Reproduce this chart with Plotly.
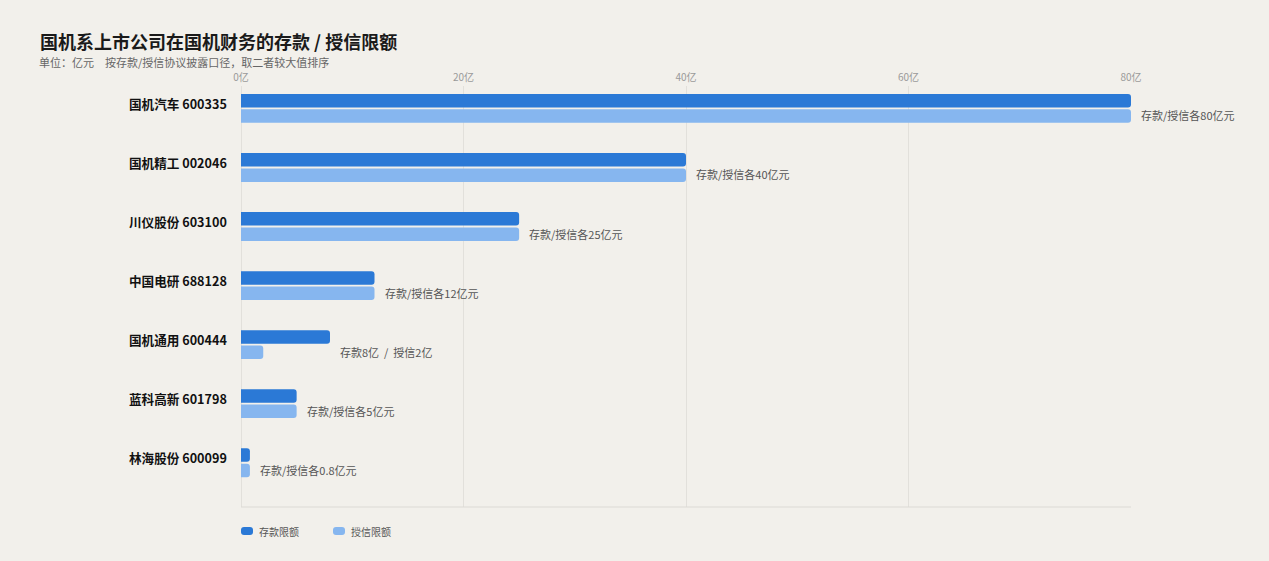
import plotly.graph_objects as go

companies = ["国机汽车 600335", "国机精工 002046", "川仪股份 603100", "中国电研 688128",
             "国机通用 600444", "蓝科高新 601798", "林海股份 600099"]
deposit = [80, 40, 25, 12, 8, 5, 0.8]
credit = [80, 40, 25, 12, 2, 5, 0.8]
notes = ["存款/授信各80亿元", "存款/授信各40亿元", "存款/授信各25亿元", "存款/授信各12亿元",
         "存款8亿  /  授信2亿", "存款/授信各5亿元", "存款/授信各0.8亿元"]
series_names = ["存款限额", "授信限额"]
x_ticks = [0, 20, 40, 60, 80]

FONT = "Noto Sans CJK SC, Noto Sans, sans-serif"
BG = "#f2f0eb"
DARK = "#2b79d6"
LIGHT = "#86b6ef"
COLORS = [DARK, LIGHT]

fig = go.Figure()
for name, vals, col in zip(series_names, [deposit, credit], COLORS):
    fig.add_trace(go.Bar(y=companies, x=vals, orientation="h", name=name,
                         marker=dict(color=col, line=dict(width=0)), hoverinfo="x+y",
                         showlegend=False))

annotations = []
for c, d, cr, t in zip(companies, deposit, credit, notes):
    annotations.append(dict(x=max(d, cr), y=c, xref="x", yref="y", text=t, showarrow=False,
                            xanchor="left", yanchor="middle", xshift=8, yshift=-7,
                            font=dict(size=11, color="#555555", family=FONT)))
    annotations.append(dict(x=0, y=c, xref="paper", yref="y", text="<b>%s</b>" % c, showarrow=False,
                            xanchor="right", yanchor="middle", xshift=-12, yshift=5,
                            font=dict(size=12.6, color="#111111", family=FONT)))

annotations.append(dict(x=-203 / 890, y=1 + (86 - 62) / 421, xref="paper", yref="paper",
                        text="单位：亿元　按存款/授信协议披露口径，取二者较大值排序", showarrow=False,
                        xanchor="left", yanchor="middle", borderpad=0,
                        font=dict(size=11, color="#666666", family=FONT)))

# legend (custom, to match rounded swatches)
legend_y = -(531 - 507) / 421
rr = "M3,-4 L9,-4 Q12,-4 12,-1 L12,1 Q12,4 9,4 L3,4 Q0,4 0,1 L0,-1 Q0,-4 3,-4 Z"
shapes = [dict(type="line", xref="paper", yref="paper", x0=0, x1=1, y0=0, y1=0,
               line=dict(color="#dcdad5", width=1))]
legend_offsets = [0, 92]
for name, col, off in zip(series_names, COLORS, legend_offsets):
    shapes.append(dict(type="path", xref="paper", yref="paper", xsizemode="pixel", ysizemode="pixel",
                       xanchor=off / 890, yanchor=legend_y, path=rr,
                       fillcolor=col, line=dict(width=0)))
    annotations.append(dict(x=off / 890, y=legend_y, xref="paper", yref="paper", text=name,
                            showarrow=False, xanchor="left", yanchor="middle", xshift=16,
                            font=dict(size=10, color="#555555", family=FONT)))

fig.update_layout(
    width=1269, height=561,
    paper_bgcolor=BG, plot_bgcolor=BG,
    font=dict(family=FONT, color="#333333"),
    margin=dict(l=241, r=138, t=86, b=54),
    barmode="group", bargap=0.48, bargroupgap=0.12, barcornerradius=3,
    title=dict(text="<b>国机系上市公司在国机财务的存款 / 授信限额</b>",
               x=40 / 1269, xanchor="left", xref="container", y=1 - 43 / 561, yanchor="middle",
               yref="container",
               font=dict(size=18, color="#1a1a1a", family=FONT)),
    xaxis=dict(side="top", range=[0, 80], tickvals=x_ticks,
               ticktext=["%d亿" % v for v in x_ticks],
               tickfont=dict(size=10, color="#9a9a9a", family=FONT),
               showgrid=True, gridcolor="#e2e0db", gridwidth=1,
               zeroline=True, zerolinecolor="#e2e0db", zerolinewidth=1,
               showline=False, ticks="", ticklabelstandoff=2, fixedrange=True),
    yaxis=dict(categoryorder="array", categoryarray=companies,
               range=[6.75, -0.38], showticklabels=False, showgrid=False,
               zeroline=False, showline=False, ticks="", fixedrange=True),
    annotations=annotations,
    shapes=shapes,
    showlegend=False,
)

fig.write_html("out.html", config={"displayModeBar": False},
               post_script="document.body.style.margin='0';document.body.style.background='%s';" % BG)
